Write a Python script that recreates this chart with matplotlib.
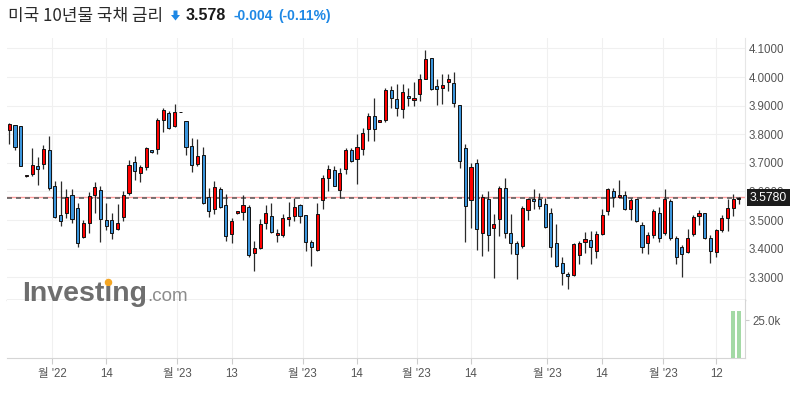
import numpy as np
import matplotlib
matplotlib.use('Agg')
import matplotlib.pyplot as plt
from matplotlib.transforms import blended_transform_factory
from matplotlib.patches import Polygon
from matplotlib.lines import Line2D

plt.rcParams['font.family'] = ['Liberation Sans', 'Noto Sans CJK KR']

# 일봉 OHLC
opens = [3.816, 3.831, 3.828, 3.653, 3.662, 3.690, 3.695, 3.746, 3.619, 3.516,
         3.523, 3.586, 3.542, 3.439, 3.491, 3.589, 3.606, 3.499, 3.499, 3.467,
         3.511, 3.595, 3.704, 3.666, 3.684, 3.744, 3.747, 3.850, 3.873, 3.827,
         3.878, 3.845, 3.758, 3.697, 3.726, 3.579, 3.539, 3.607, 3.552, 3.450,
         3.524, 3.529, 3.547, 3.384, 3.401, 3.490, 3.515, 3.446, 3.446, 3.504,
         3.513, 3.551, 3.519, 3.424, 3.394, 3.569, 3.647, 3.676, 3.606, 3.679,
         3.746, 3.713, 3.748, 3.818, 3.862, 3.843, 3.851, 3.956, 3.922, 3.887,
         3.935, 3.921, 3.942, 3.994, 4.068, 3.967, 3.963, 3.984, 3.980, 3.903,
         3.753, 3.569, 3.700, 3.456, 3.572, 3.473, 3.502, 3.611, 3.456, 3.421,
         3.409, 3.535, 3.572, 3.572, 3.555, 3.523, 3.418, 3.348, 3.311, 3.307,
         3.377, 3.423, 3.430, 3.393, 3.450, 3.532, 3.601, 3.581, 3.589, 3.537,
         3.572, 3.482, 3.421, 3.447, 3.523, 3.453, 3.567, 3.436, 3.404, 3.389,
         3.450, 3.515, 3.523, 3.436, 3.389, 3.465, 3.508, 3.541, 3.572]
highs = [3.840, 3.831, 3.830, 3.657, 3.753, 3.721, 3.763, 3.795, 3.637, 3.637,
         3.608, 3.608, 3.558, 3.499, 3.597, 3.632, 3.618, 3.561, 3.523, 3.555,
         3.601, 3.711, 3.723, 3.692, 3.757, 3.745, 3.858, 3.891, 3.881, 3.905,
         3.879, 3.845, 3.786, 3.782, 3.754, 3.611, 3.638, 3.614, 3.590, 3.506,
         3.533, 3.588, 3.553, 3.428, 3.504, 3.551, 3.559, 3.469, 3.520, 3.562,
         3.576, 3.557, 3.519, 3.431, 3.559, 3.659, 3.693, 3.690, 3.682, 3.752,
         3.752, 3.802, 3.822, 3.874, 3.927, 3.851, 3.962, 3.970, 3.977, 3.977,
         3.963, 3.984, 4.009, 4.093, 4.068, 3.992, 4.012, 4.012, 4.019, 3.903,
         3.765, 3.700, 3.712, 3.590, 3.601, 3.522, 3.619, 3.648, 3.522, 3.427,
         3.549, 3.576, 3.610, 3.595, 3.576, 3.543, 3.485, 3.372, 3.319, 3.421,
         3.426, 3.459, 3.461, 3.461, 3.537, 3.611, 3.611, 3.640, 3.601, 3.576,
         3.572, 3.494, 3.459, 3.537, 3.546, 3.607, 3.572, 3.444, 3.412, 3.467,
         3.517, 3.535, 3.523, 3.447, 3.467, 3.517, 3.572, 3.590, 3.581]
lows = [3.767, 3.746, 3.688, 3.652, 3.653, 3.622, 3.680, 3.604, 3.508, 3.480,
        3.508, 3.490, 3.406, 3.436, 3.456, 3.523, 3.424, 3.464, 3.433, 3.464,
        3.496, 3.587, 3.640, 3.632, 3.675, 3.736, 3.730, 3.809, 3.817, 3.824,
        3.877, 3.728, 3.667, 3.690, 3.557, 3.511, 3.521, 3.543, 3.428, 3.419,
        3.522, 3.499, 3.372, 3.323, 3.398, 3.469, 3.455, 3.422, 3.440, 3.478,
        3.495, 3.490, 3.390, 3.338, 3.390, 3.540, 3.602, 3.618, 3.577, 3.661,
        3.704, 3.627, 3.728, 3.775, 3.775, 3.841, 3.841, 3.892, 3.864, 3.858,
        3.897, 3.899, 3.916, 3.992, 3.953, 3.901, 3.904, 3.951, 3.896, 3.681,
        3.424, 3.471, 3.394, 3.375, 3.392, 3.298, 3.444, 3.438, 3.380, 3.293,
        3.403, 3.500, 3.537, 3.537, 3.471, 3.372, 3.334, 3.272, 3.259, 3.304,
        3.345, 3.383, 3.346, 3.366, 3.447, 3.517, 3.546, 3.579, 3.535, 3.500,
        3.494, 3.383, 3.381, 3.436, 3.424, 3.447, 3.430, 3.345, 3.299, 3.386,
        3.444, 3.482, 3.432, 3.348, 3.372, 3.459, 3.461, 3.515, 3.555]
closes = [3.837, 3.756, 3.690, 3.656, 3.692, 3.680, 3.749, 3.613, 3.511, 3.496,
          3.581, 3.502, 3.421, 3.491, 3.584, 3.616, 3.502, 3.479, 3.453, 3.488,
          3.589, 3.692, 3.672, 3.684, 3.751, 3.737, 3.850, 3.884, 3.821, 3.877,
          3.878, 3.754, 3.691, 3.723, 3.561, 3.532, 3.614, 3.544, 3.445, 3.498,
          3.531, 3.553, 3.376, 3.401, 3.485, 3.525, 3.457, 3.456, 3.506, 3.510,
          3.547, 3.513, 3.422, 3.406, 3.521, 3.647, 3.678, 3.620, 3.664, 3.746,
          3.707, 3.755, 3.805, 3.862, 3.818, 3.849, 3.956, 3.927, 3.893, 3.949,
          3.925, 3.928, 3.994, 4.062, 3.959, 3.959, 3.971, 3.992, 3.910, 3.706,
          3.549, 3.685, 3.467, 3.582, 3.446, 3.487, 3.611, 3.456, 3.421, 3.380,
          3.543, 3.572, 3.565, 3.549, 3.474, 3.407, 3.340, 3.313, 3.304, 3.416,
          3.421, 3.433, 3.404, 3.451, 3.517, 3.607, 3.581, 3.589, 3.537, 3.570,
          3.497, 3.404, 3.446, 3.531, 3.436, 3.572, 3.436, 3.369, 3.381, 3.436,
          3.509, 3.523, 3.438, 3.391, 3.465, 3.508, 3.541, 3.572, 3.578]

# 거래량 (마지막 두 봉만 표시됨)
vol_idx = [127, 128]
vol_vals = [31000, 30800]

last_price = 3.578
prev_close = 3.582

tick_pos = [7.5, 17.0, 29.5, 39.0, 51.5, 61.0, 71.5, 81.0, 94.4, 103.9, 114.7, 124.0]
tick_labels = ["월 '22", "14", "월 '23", "13", "월 '23", "14", "월 '23", "14",
               "월 '23", "14", "월 '23", "12"]
price_ticks = [3.3, 3.4, 3.5, 3.6, 3.7, 3.8, 3.9, 4.0, 4.1]

RED = '#ff0000'
BLUE = '#3b95dc'

W, H = 795, 395
fig = plt.figure(figsize=(7.95, 3.95), dpi=100)


def px_box(l, t, r, b):
    return [l / W, 1 - b / H, (r - l) / W, (b - t) / H]


ax = fig.add_axes(px_box(7, 38, 745, 300))
axv = fig.add_axes(px_box(7, 300, 745, 358), sharex=ax)

o = np.array(opens)
hi = np.array(highs)
lo = np.array(lows)
c = np.array(closes)
x = np.arange(len(c))
colors = np.where(c >= o, RED, BLUE)

ax.axhline(prev_close, color='#ff9c9c', lw=1.0, zorder=1.5)
ax.axhline(last_price, color='#606060', lw=1.2, ls=(0, (3, 2.4)), zorder=1.6)

ax.vlines(x, lo, hi, color='#2b2b2b', lw=0.9, zorder=2)
ax.bar(x, np.abs(c - o), bottom=np.minimum(o, c), width=0.55, color=colors,
       edgecolor='#111111', linewidth=0.7, zorder=3)

ax.set_xlim(-0.4, 129.07)
ax.set_ylim(3.2203, 4.1364)
ax.set_yticks(price_ticks)
ax.set_yticklabels(['%.4f' % v for v in price_ticks])
ax.yaxis.tick_right()
ax.tick_params(axis='y', length=0, pad=2.5, labelsize=8.3, labelcolor='#555555')
ax.set_xticks(tick_pos)
ax.tick_params(axis='x', length=0, labelbottom=False)
ax.grid(True, color='#f0f0f0', lw=0.8)
ax.set_axisbelow(True)
for s in ['top', 'left']:
    ax.spines[s].set_visible(False)
ax.spines['bottom'].set_color('#b5b5b5')
ax.spines['bottom'].set_linewidth(1.0)
ax.spines['right'].set_color('#e6e6e6')
ax.spines['right'].set_linewidth(0.8)

# 현재가 박스
tr = blended_transform_factory(ax.transAxes, ax.transData)
ax.text(1 + 5 / 738, last_price, '%.4f' % last_price, transform=tr, color='white',
        fontsize=8.8, va='center', ha='left', zorder=10,
        bbox=dict(boxstyle='square,pad=0.22', fc='#1c1c1c', ec='none'))

# 거래량
axv.bar(vol_idx, vol_vals, width=0.75, color='#a3d9a5', zorder=3)
axv.set_ylim(0, 38200)
axv.set_yticks([25000])
axv.set_yticklabels(['25.0k'])
axv.yaxis.tick_right()
axv.tick_params(axis='y', length=3, color='#cccccc', pad=2, labelsize=8.3,
                labelcolor='#555555')
axv.set_xticks(tick_pos)
axv.set_xticklabels(tick_labels)
axv.tick_params(axis='x', length=4, color='#cccccc', pad=3, labelsize=8.3,
                labelcolor='#555555')
axv.grid(True, axis='x', color='#f0f0f0', lw=0.8)
axv.set_axisbelow(True)
for s in ['top', 'left']:
    axv.spines[s].set_visible(False)
axv.spines['bottom'].set_color('#d5d5d5')
axv.spines['right'].set_color('#d5d5d5')

# 제목 줄
fig.text(8 / W, 1 - 16 / H, '미국 10년물 국채 금리', fontsize=12.2, color='#2a2a2a',
         family=['Noto Sans CJK KR'], va='center', ha='left')
arrow = [(173.5, 10.5), (177.5, 10.5), (177.5, 15), (180, 15), (175.5, 20.5),
         (171, 15), (173.5, 15)]
fig.patches.append(Polygon([(px / W, 1 - py / H) for px, py in arrow], closed=True,
                           transform=fig.transFigure, fc='#1e88e5', ec='none'))
fig.text(186 / W, 1 - 16 / H, '%.3f' % last_price, fontsize=11.5, fontweight='bold',
         color='#1a1a1a', va='center', ha='left')
fig.text(233 / W, 1 - 16 / H, '-0.004', fontsize=10, fontweight='bold',
         color='#1e88e5', va='center', ha='left')
fig.text(278 / W, 1 - 16 / H, '(-0.11%)', fontsize=10, fontweight='bold',
         color='#1e88e5', va='center', ha='left')

# 워터마크
wm = fig.text(22 / W, 1 - 301 / H, 'Investıng', fontsize=20.5, fontweight='bold',
              color='#6e6e6e', va='baseline', ha='left')
renderer = fig.canvas.get_renderer()
wm_end = wm.get_window_extent(renderer).x1
fig.text((wm_end + 0.5) / W, 1 - 301 / H, '.com', fontsize=13.5, color='#8c8c8c',
         va='baseline', ha='left')
tmp = fig.text(22 / W, 1 - 301 / H, 'Invest', fontsize=20.5, fontweight='bold',
               va='baseline', ha='left')
x_end = tmp.get_window_extent(renderer).x1
tmp.remove()
fig.add_artist(Line2D([(x_end + 3.6) / W], [1 - 281.5 / H], marker='o', ms=4.4,
                      color='#f5a623', transform=fig.transFigure, lw=0))

fig.savefig('out.png', dpi=100)
